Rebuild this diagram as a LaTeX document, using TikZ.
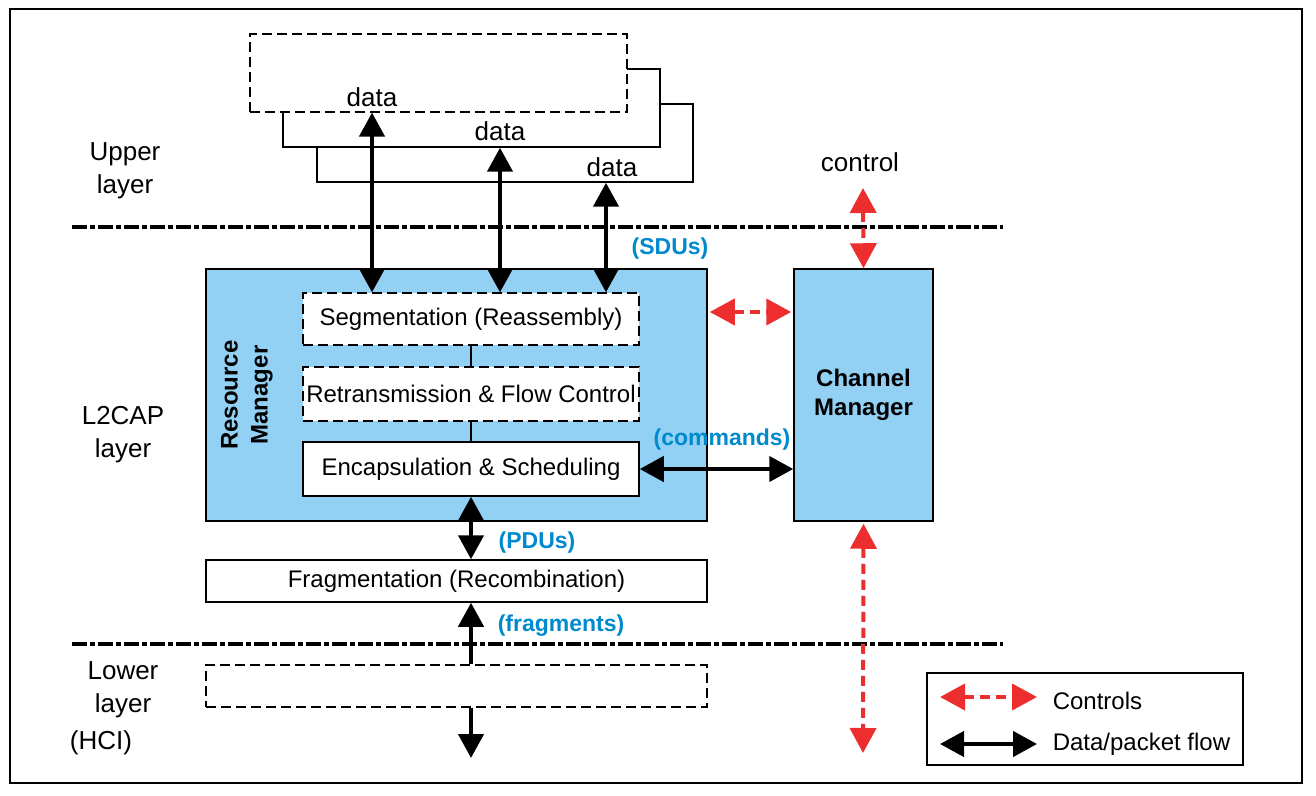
\documentclass[tikz,border=0pt]{standalone}
\usepackage{fontspec}
\setmainfont{Liberation Sans}
\usetikzlibrary{arrows.meta}
\definecolor{rmblue}{RGB}{146,209,243}
\definecolor{lblblue}{RGB}{0,138,206}
\definecolor{ctrlred}{RGB}{236,46,46}
\tikzset{
	block/.style={draw,line width=0.75pt,inner sep=0pt,font=\fontsize{12}{14.5}\selectfont},
	dblock/.style={block,line width=0.6pt,dash pattern=on 5pt off 2.5pt},
	mgr/.style={block,fill=rmblue,align=center,font=\fontsize{12}{14.5}\selectfont\bfseries},
	mgrtext/.style={align=center,inner sep=0pt,font=\fontsize{12}{15}\selectfont\bfseries},
	lbl/.style={align=center,font=\fontsize{13}{16.5}\selectfont},
	blue lbl/.style={text=lblblue,inner sep=0pt,font=\fontsize{11.5}{14}\selectfont\bfseries},
	dflow/.style={line width=2.2pt,{Triangle[width=12.5pt,length=12pt]}-{Triangle[width=12.5pt,length=12pt]}},
	dflowend/.style={line width=2.2pt,-{Triangle[width=12.5pt,length=12pt]}},
	ctrl/.style={draw=ctrlred,line width=2pt,dash pattern=on 5pt off 3pt,{Triangle[width=13pt,length=12.5pt]}-{Triangle[width=13pt,length=12.5pt]}},
	layerline/.style={line width=2pt,dash pattern=on 7.5pt off 1.5pt on 2.5pt off 1.5pt}
}
\begin{document}
\begin{tikzpicture}[x=0.5pt,y=-0.5pt]
	\useasboundingbox (0,0) rectangle (1316,796);
	\draw[line width=0.75pt] (10,9) rectangle (1302,783);
	% upper layer
	\node[block,fill=white,minimum width=188pt,minimum height=39pt] (box3) at (505,143) {};
	\node[block,fill=white,minimum width=188.5pt,minimum height=39pt] (box2) at (471.5,108) {};
	\node[dblock,fill=white,minimum width=188.5pt,minimum height=39pt] (box1) at (438.5,73) {};
	\node[lbl] (d1) at (372,97) {data};
	\node[lbl] (d2) at (500,131) {data};
	\node[lbl] (d3) at (612,167) {data};
	\coordinate (d3x) at (606,167);
	\node[lbl] (upper) at (125,171) {Upper\\layer};
	\node[lbl] (ctl) at (860,162) {control};
	\coordinate (ctltip) at (863,188);
	% layer borders
	\draw[layerline] (72,227) -- (1003,227);
	\draw[layerline] (72,644) -- (1003,644);
	% L2CAP layer
	\node[lbl] (l2cap) at (123,435) {L2CAP\\layer};
	\node[mgr,minimum width=250.5pt,minimum height=126pt] (resmgr) at (456.5,395) {};
	\node[mgrtext,rotate=90] (rmtext) at (247,395) {Resource\\Manager};
	\node[mgr,minimum width=69.5pt,minimum height=126pt] (chmgr) at (863.5,395) {Channel\\Manager};
	\node[dblock,fill=white,minimum width=168pt,minimum height=26pt] (seg) at (471,319) {Segmentation (Reassembly)};
	\node[dblock,fill=white,minimum width=168pt,minimum height=27pt] (retx) at (471,394) {Retransmission \& Flow Control};
	\node[block,fill=white,minimum width=168pt,minimum height=27pt] (encap) at (471,469) {Encapsulation \& Scheduling};
	\node[block,fill=white,minimum width=250.5pt,minimum height=21pt] (frag) at (456.5,581) {Fragmentation (Recombination)};
	\draw[line width=1.3pt] (seg) -- (retx);
	\draw[line width=1.3pt] (retx) -- (encap);
	% lower layer
	\node[lbl] (lower) at (123,690) {Lower\\layer};
	\node[lbl] (hci) at (101,743) {(HCI)};
	\node[dblock,minimum width=250.5pt,minimum height=21pt] (hcibox) at (456.5,686) {};
	\coordinate (hcitip) at (471,758);
	\coordinate (chtip) at (863,753);
	% flows
	\draw[dflow] (box1.south -| d1) -- (seg.north -| d1);
	\draw[dflow] (box2.south -| d2) -- (seg.north -| d2);
	\draw[dflow] (box3.south -| d3x) -- (seg.north -| d3x);
	\draw[dflow] (encap.east) -- (chmgr.west |- encap.east);
	\draw[dflow] (encap.south) -- (frag.north -| encap);
	\draw[dflowend] (hcibox.north -| encap) -- (frag.south -| encap);
	\draw[dflowend] (hcibox.south -| encap) -- (hcitip);
	\draw[ctrl] (ctltip) -- (chmgr.north);
	\draw[ctrl,shorten <=1pt,shorten >=1pt] (resmgr.east |- 0,312) -- (chmgr.west |- 0,312);
	\draw[ctrl,shorten <=1pt] (chmgr.south) -- (chtip);
	\node[blue lbl] (sdu) at (670,249) {(SDUs)};
	\node[blue lbl] (cmd) at (722,440) {(commands)};
	\node[blue lbl] (pdu) at (537,543) {(PDUs)};
	\node[blue lbl] (frg) at (561,626) {(fragments)};
	% legend
	\node[block,minimum width=158pt,minimum height=46pt] (legend) at (1085,719) {};
	\coordinate (lc1) at (940,697);
	\coordinate (lc2) at (1037,697);
	\coordinate (ld1) at (940,744);
	\coordinate (ld2) at (1037,744);
	\draw[ctrl] (lc1) -- (lc2);
	\draw[dflow] (ld1) -- (ld2);
	\node[block,draw=none,anchor=west] (lcl) at (1052,701) {Controls};
	\node[block,draw=none,anchor=west] (ldl) at (1052,744) {Data/packet flow};
\end{tikzpicture}
\end{document}
